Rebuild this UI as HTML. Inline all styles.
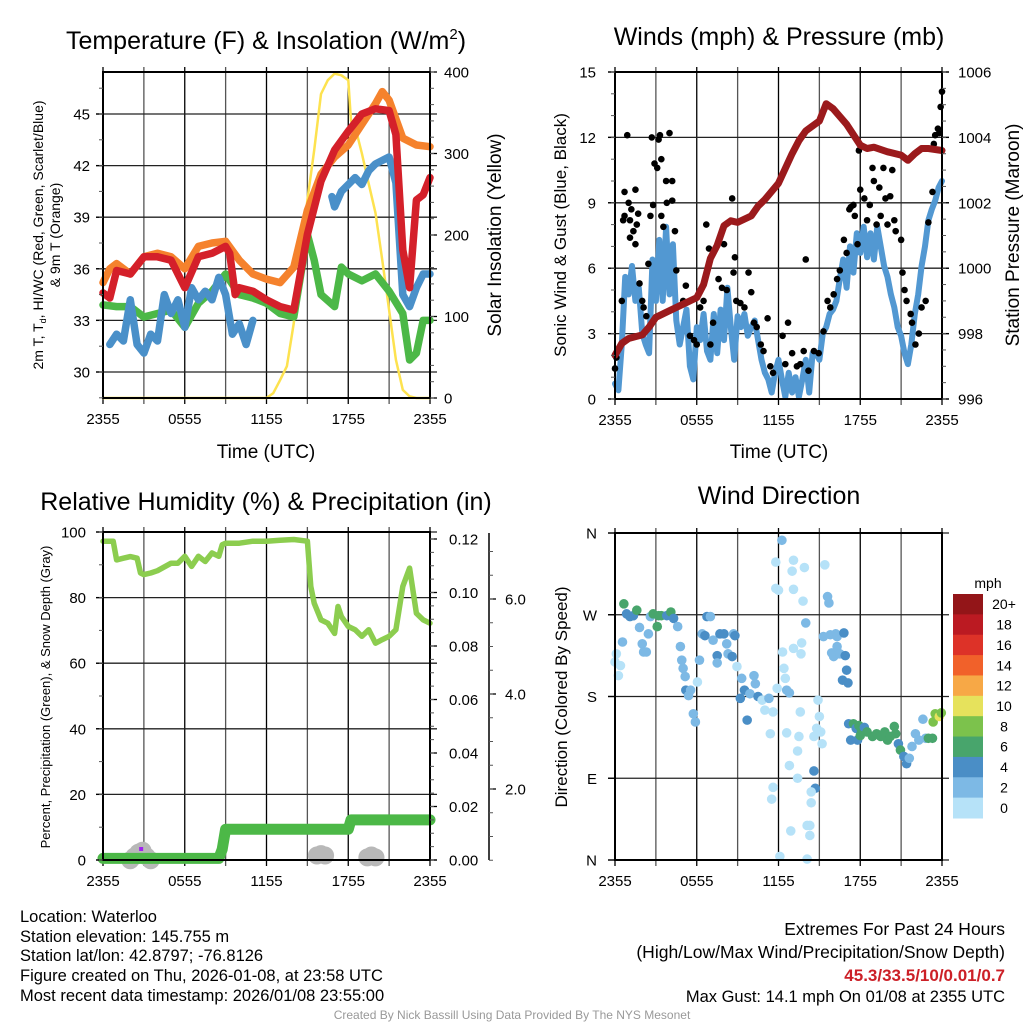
<!DOCTYPE html>
<html><head><meta charset="utf-8"><title>Waterloo Meteogram</title>
<style>
html,body{margin:0;padding:0;background:#fff;}
svg{display:block;font-family:"Liberation Sans",Arial,sans-serif;}
</style></head>
<body>
<svg id="root" width="1024" height="1024" viewBox="0 0 1024 1024">
<g id="grid-layer"></g>
<g id="data-layer"></g>
<g id="axis-layer"></g>
<text x="266" y="49" font-size="25" text-anchor="middle">Temperature (F) &amp; Insolation (W/m<tspan font-size="15" dy="-10">2</tspan><tspan dy="10">)</tspan></text>
<text x="779" y="45" font-size="25" text-anchor="middle">Winds (mph) &amp; Pressure (mb)</text>
<text x="266" y="510" font-size="25" text-anchor="middle">Relative Humidity (%) &amp; Precipitation (in)</text>
<text x="779" y="504" font-size="25" text-anchor="middle">Wind Direction</text>
<text x="266" y="458" font-size="19" text-anchor="middle">Time (UTC)</text>
<text x="779" y="458" font-size="19" text-anchor="middle">Time (UTC)</text>
<text transform="translate(43,235) rotate(-90)" font-size="14" text-anchor="middle">2m T, T<tspan font-size="9" dy="3">d</tspan><tspan dy="-3">, HI/WC (Red, Green, Scarlet/Blue)</tspan></text>
<text transform="translate(60,235) rotate(-90)" font-size="14" text-anchor="middle">&amp; 9m T (Orange)</text>
<text transform="translate(501,235) rotate(-90)" font-size="19" text-anchor="middle">Solar Insolation (Yellow)</text>
<text transform="translate(566,235) rotate(-90)" font-size="17" text-anchor="middle">Sonic Wind &amp; Gust (Blue, Black)</text>
<text transform="translate(1019,235) rotate(-90)" font-size="19" text-anchor="middle">Station Pressure (Maroon)</text>
<text transform="translate(50,697) rotate(-90)" font-size="13" text-anchor="middle">Percent, Precipitation (Green), &amp; Snow Depth (Gray)</text>
<text transform="translate(567,697) rotate(-90)" font-size="17" text-anchor="middle">Direction (Colored By Speed)</text>
<text x="988" y="588" font-size="14" text-anchor="middle">mph</text>
<g font-size="16.5">
<text x="20" y="922">Location: Waterloo</text>
<text x="20" y="942">Station elevation: 145.755 m</text>
<text x="20" y="961">Station lat/lon: 42.8797; -76.8126</text>
<text x="20" y="981">Figure created on Thu, 2026-01-08, at 23:58 UTC</text>
<text x="20" y="1001">Most recent data timestamp: 2026/01/08 23:55:00</text>
</g>
<g font-size="16.5" text-anchor="end">
<text x="1005" y="935" font-size="17.5">Extremes For Past 24 Hours</text>
<text x="1005" y="958" font-size="17.5">(High/Low/Max Wind/Precipitation/Snow Depth)</text>
<text x="1005" y="981" font-size="17" font-weight="bold" fill="#cc2027">45.3/33.5/10/0.01/0.7</text>
<text x="1005" y="1002">Max Gust: 14.1 mph On 01/08 at 2355 UTC</text>
</g>
<text x="512" y="1019" font-size="12" fill="#999" text-anchor="middle">Created By Nick Bassill Using Data Provided By The NYS Mesonet</text>
</svg>
<script>
// ---------- data ----------
const hourTicks = [0, 6, 12, 18, 24];
const hourTickLabels = ["2355", "0555", "1155", "1755", "2355"];
const tempTicks = [30, 33, 36, 39, 42, 45];
const solarTicks = [0, 100, 200, 300, 400];
const windTicks = [0, 3, 6, 9, 12, 15];
const presTicks = [996, 998, 1000, 1002, 1004, 1006];
const rhTicks = [0, 20, 40, 60, 80, 100];
const precipTicks = [0, 0.02, 0.04, 0.06, 0.08, 0.10, 0.12];
const precipTickLabels = ["0.00", "0.02", "0.04", "0.06", "0.08", "0.10", "0.12"];
const snowTicks = [2, 4, 6];
const snowTickLabels = ["2.0", "4.0", "6.0"];
const dirTicks = [0, 90, 180, 270, 360];
const dirTickLabels = ["N", "E", "S", "W", "N"];
const speedBins = ["20+", "18", "16", "14", "12", "10", "8", "6", "4", "2", "0"];
const speedColors = ["#931518", "#bb1a22", "#dd3228", "#f1612a", "#f7a846", "#e6e25c", "#7cc24c", "#48a56c", "#4a8ec6", "#7db9e5", "#b6e2f8"];

const orangeHours = [0,0.5,1,2,3,4,5,6,7,8,9,10,11,12,13,14,15,16,17,18,19,20,20.5,21,22,23,24];
const orangeTemp = [35.2,36.0,36.3,35.7,36.7,36.9,36.7,36.0,37.3,37.5,37.6,36.5,35.7,35.4,35.2,36.1,39.4,41.5,42.5,43.2,44.4,45.6,46.3,45.8,43.6,43.2,43.1];
const redHours = [0,0.5,1,2,3,4,5,6,7,8,9,9.3,9.7,10,11,12,13,14,15,16,17,18,19,20,21,21.5,22,22.5,23,23.5,24];
const redTemp = [34.6,34.3,35.9,35.7,36.7,36.7,36.5,34.9,36.7,36.9,37.3,36.9,34.5,34.9,34.7,34.2,33.8,33.6,38.0,41.1,42.9,44.0,45.0,45.3,45.2,43.8,37.1,34.9,40.0,40.3,41.3];
const greenHours = [0,1,2,3,4,5,6,7,8,9,10,11,12,13,14,15,15.5,16,17,17.5,18,19,20,21,22,22.5,23,23.5,24];
const greenTemp = [33.9,33.8,33.8,33.2,33.4,33.6,32.6,34.0,34.7,35.7,34.5,34.3,34.0,33.4,33.2,38.0,36.5,34.5,33.8,36.1,35.7,35.3,35.7,34.7,33.4,30.7,31.1,33.0,33.0];
const blueHours = [0.5,1,1.5,2,2.5,3,3.5,4,4.5,5,5.5,6,6.5,7,7.5,8,8.5,9,9.5,10,10.5,11,11.5,16.8,17,17.5,18,18.5,19,19.5,20,20.5,21,21.5,22,22.5,23,23.5,24];
const blueTemp = [31.6,32.2,31.8,34.2,31.6,31.1,32.2,31.8,34.5,33.4,34.2,32.6,34.9,34.2,34.7,34.2,35.5,34.5,32.2,32.8,31.6,33.0,null,40.2,39.6,40.5,40.9,41.3,40.9,41.7,42.1,42.3,42.5,41.0,34.5,33.8,34.9,35.7,35.7];
const solarHours = [0,12,12.5,13,13.5,14,14.5,15,15.5,16,16.5,17,17.5,18,18.2,18.5,19,19.5,20,20.5,21,21.5,22,22.5,23,24];
const solarVals = [0,0,6,22,39,92,169,243,304,373,390,398,396,390,340,333,300,263,227,169,108,47,10,2,0,0];

const windSpeed = [0.7,0.4,2.5,5.6,4.8,6.1,4.5,5.1,3.0,2.5,2.1,6.4,4.5,7.3,4.5,7.9,4.8,7.1,3.6,2.5,3.3,4.1,1.5,0.9,3.3,2.7,3.9,2.2,1.8,3.9,2.1,4.1,2.7,5.1,3.3,1.8,3.8,3.3,3.9,2.9,3.3,3.6,2.7,1.8,1.2,0.9,0.3,1.2,1.8,0.9,0.1,1.2,0.3,1.0,0.1,0.9,1.8,0.3,2.1,2.1,1.8,3.0,3.3,3.9,4.1,4.5,5.5,6.4,5.1,7.0,5.8,7.6,6.7,7.9,6.5,7.6,6.4,7.9,7.0,6.1,5.6,4.8,4.2,3.3,2.9,2.1,1.6,2.5,3.9,4.8,6.1,7.0,8.2,8.7,9.1,9.7,10.0];
const gustHours = [0,0.1,0.5,0.7,0.9,0.7,0.6,1.0,1.1,1.2,1.1,1.35,1.5,1.5,1.6,1.7,1.8,2.0,2.1,2.3,2.45,2.6,2.7,2.8,2.9,3.1,3.2,3.3,3.4,3.4,3.55,3.75,3.8,4.0,4.2,4.2,4.4,4.5,5.0,5.2,5.5,5.8,6.0,6.25,6.5,6.7,6.9,7.0,7.2,7.6,7.85,8.0,8.2,8.6,8.7,8.8,8.9,9.2,9.5,9.8,10.0,10.2,10.4,10.7,10.9,11.2,11.4,11.6,12.3,12.5,12.7,13.0,13.35,13.6,13.85,14.0,14.2,14.6,14.95,15.3,15.6,15.8,16.05,16.3,16.5,16.8,17.0,17.2,17.3,17.5,17.6,17.8,17.9,18.0,18.3,18.5,18.7,18.9,19.0,19.2,19.4,19.5,19.7,19.85,20.0,20.2,20.35,20.5,20.6,21.0,21.1,21.25,21.4,21.7,21.8,22.05,22.3,22.5,22.8,23.0,23.3,23.4,23.5,23.7,23.8,23.9,24.0];
const gustSpeed = [1.4,1.9,4.5,9.5,12.1,8.4,8.2,9.0,8.2,8.7,7.4,7.7,7.1,9.6,8.0,8.5,5.3,4.5,4.2,3.8,6.2,8.4,12.0,8.9,10.8,10.6,11.9,12.1,11.0,8.4,7.9,10.0,9.0,12.2,10.0,9.1,7.7,5.9,4.5,5.2,2.9,2.7,2.5,4.2,4.5,8.0,6.9,2.5,3.5,5.5,5.1,7.1,5.0,9.2,5.8,6.5,4.5,4.4,4.2,5.8,4.9,3.5,3.3,2.5,2.2,3.7,1.5,1.2,2.9,1.6,3.5,2.1,1.5,1.6,2.2,6.4,1.3,2.2,2.1,3.1,4.5,4.2,4.8,5.5,5.9,7.3,6.7,8.7,8.8,8.9,8.4,7.1,11.4,9.6,9.2,8.2,8.9,10.6,10.0,8.0,9.7,8.4,10.6,9.2,8.0,9.3,10.5,8.2,7.7,7.3,5.8,5.0,4.5,3.9,3.5,2.5,3.0,4.2,4.5,8.1,9.5,11.7,12.1,12.4,12.2,13.4,14.1];
const presHours = [0,0.5,1,2,2.5,3,4,5,6,6.5,7,7.5,8,8.5,9,10,10.5,11,12,13,13.5,14,15,15.5,16,17,18,18.5,19,20,21,21.5,22,22.5,23,24];
const presVals = [997.34,997.7,997.85,997.96,998.2,998.5,998.7,998.9,999.1,999.5,1000.3,1000.7,1001.3,1001.45,1001.4,1001.6,1001.9,1002.1,1002.6,1003.5,1003.9,1004.2,1004.5,1005.03,1004.88,1004.4,1003.76,1003.66,1003.7,1003.56,1003.46,1003.3,1003.5,1003.66,1003.66,1003.6];

const dirHours = [0,0.1,0.25,0.4,0.55,0.65,0.85,1.1,1.35,1.6,1.8,2.0,2.1,2.3,2.45,2.6,2.8,3.1,3.2,3.4,3.8,4.1,4.3,4.6,4.8,4.9,5.0,5.15,5.2,5.4,5.55,5.75,5.9,6.05,6.2,6.4,6.6,6.75,7.0,7.2,7.5,7.5,7.7,8.0,8.2,8.3,8.6,8.7,8.8,8.95,9.2,9.3,9.5,9.7,9.9,10.2,10.3,10.5,10.8,11.0,11.3,11.4,11.6,11.9,12.25,11.8,13.1,13.0,13.9,15.4,11.8,12.0,13.1,13.8,14.0,13.7,13.1,12.3,13.65,12.4,12.5,12.6,12.8,13.6,14.9,15.0,14.8,15.1,14.6,15.2,12.6,13.5,13.4,12.8,14.6,13.4,11.6,14.7,14.4,11.5,14.4,14.1,14.3,12.9,14.3,12.1,14.1,15.6,15.7,15.3,15.8,16.2,16.3,16.8,15.9,16.05,16.3,16.5,16.9,17.0,16.7,17.1,17.15,17.5,17.7,17.9,18.1,18.3,18.5,18.9,19.2,19.5,19.8,20.0,20.2,20.5,20.6,20.8,20.95,21.2,21.4,21.6,21.8,22.05,22.3,22.6,22.8,23.0,23.3,23.35,23.5,23.8,23.95,17.3,17.8,18.0];
const dirDeg = [218,227,203,214,240,282,271,268,269,275,256,238,229,229,249,268,271,257,269,269,269,273,266,257,235,220,211,202,187,181,187,161,152,196,220,249,247,268,268,242,225,217,249,249,238,227,224,249,247,213,178,200,187,154,183,203,194,180,176,165,178,139,163,189,352,328,330,318,322,325,299,297,298,285,261,239,233,229,227,211,200,187,184,163,176,158,145,141,136,128,140,136,120,104,98,90,80,79,75,67,63,38,38,32,27,4,1,290,283,246,248,249,246,250,228,224,235,227,225,209,198,195,150,150,145,148,143,146,141,136,139,136,141,132,136,147,139,128,121,114,106,112,125,139,132,155,134,134,134,152,161,158,162,132,132,137];
const dirSpeed = [1,1,1,1,2,6,5,4,4,6,2,2,2,2,2,3,6,6,7,6,5,6,4,3,2,2,2,2,4,2,2,2,2,1,3,2,4,4,2,2,4,2,4,4,2,2,4,2,4,1,4,3,4,4,3,3,3,4,1,1,2,1,1,1,3,1,1,1,1,1,1,1,1,1,3,1,1,1,1,1,1,3,3,1,1,1,1,1,1,1,1,1,1,1,4,1,1,4,1,1,1,1,1,1,1,1,1,3,3,2,2,2,2,4,2,2,2,2,4,4,4,4,4,6,5,6,6,5,6,7,7,7,7,7,7,6,6,4,6,4,4,2,2,2,2,2,2,6,6,8,8,10,8,5,4,6];

const rhHours = [0,0.75,1,1.5,2,2.5,2.75,3,3.5,4,5,5.5,6,6.5,7,7.5,8,8.5,8.75,9,10,11,12,13,14,15,15.25,15.5,16,16.5,17,17.25,17.5,18,18.5,19,19.5,20,20.5,21,21.5,22,22.5,23,23.5,24];
const rhVals = [97.2,97.2,91.5,92.0,92.5,92.0,87.5,87.0,87.5,88.2,90.5,90.5,92.6,89.5,92.6,91.0,93.6,92.6,96.1,96.6,96.6,97.2,97.2,97.5,97.7,97.2,83.4,78.3,73.2,72.2,69.1,77.3,74.2,71.2,70.2,68.2,70.2,66.1,67.2,68.2,70.2,83.4,89.0,75.2,73.2,72.2];
const precipHours = [0,8.5,8.75,9,18,18.2,24];
const precipVals = [0.0006,0.0006,0.004,0.0115,0.0115,0.015,0.015];
const snowHours = [2.0,2.3,2.6,2.9,3.2,3.5,15.7,16.0,16.3,19.4,19.7,20.0];
const snowVals = [0.5,0.58,0.66,0.7,0.58,0.5,0.6,0.63,0.6,0.56,0.6,0.56];

// ---------- scales ----------
const xL = h => 103 + h * 13.625;
const xR = h => 615 + h * 13.625;
const yTemp = v => 372 - (v - 30) * 17.2;
const ySolar = v => 398 - v * 0.815;
const yWind = v => 399 - v * 21.8;
const yPres = v => 399 - (v - 996) * 32.7;
const yRH = v => 860 - v * 3.28;
const yPrecip = v => 860 - v * 2675;
const ySnow = v => 884 - v * 47.5;
const yDir = v => 860 - v * 0.9083;

const NS = "http://www.w3.org/2000/svg";
const gridL = document.getElementById("grid-layer");
const dataL = document.getElementById("data-layer");
const axisL = document.getElementById("axis-layer");
function mk(tag, attrs, parent) {
  const e = document.createElementNS(NS, tag);
  for (const k in attrs) e.setAttribute(k, attrs[k]);
  parent.appendChild(e);
  return e;
}
function linePath(xs, ys, fx, fy) {
  let d = "", pen = false;
  for (let i = 0; i < xs.length; i++) {
    if (ys[i] === null) { pen = false; continue; }
    d += (pen ? "L" : "M") + fx(xs[i]).toFixed(1) + "," + fy(ys[i]).toFixed(1);
    pen = true;
  }
  return d;
}

// ---------- panels: grid + frame ----------
const panels = [
  {name: "temperature", x0: 103, x1: 430, y0: 72, y1: 398, fx: xL, hTicks: tempTicks.map(yTemp)},
  {name: "winds", x0: 615, x1: 942, y0: 72, y1: 399, fx: xR, hTicks: windTicks.map(yWind)},
  {name: "humidity", x0: 103, x1: 430, y0: 532, y1: 860, fx: xL, hTicks: rhTicks.map(yRH)},
  {name: "direction", x0: 615, x1: 942, y0: 533, y1: 860, fx: xR, hTicks: dirTicks.map(yDir)}
];
panels.forEach(p => {
  for (let h = 0; h <= 24; h += 3) {
    const gl = mk("line", {x1: p.fx(h), x2: p.fx(h), y1: p.y0 - 5, y2: p.y1 + 6, stroke: h % 6 === 0 ? "#000" : "#555", "stroke-width": 1.3}, gridL);
    
    
  }
  p.hTicks.forEach(y => {
    const hl = mk("line", {x1: p.x0 - 7, x2: p.x1 + 7, y1: y, y2: y, stroke: "#222", "stroke-width": 1.3}, gridL);
    
    
  });
  const fr = mk("rect", {x: p.x0, y: p.y0, width: p.x1 - p.x0, height: p.y1 - p.y0, fill: "none", stroke: "#000", "stroke-width": 2}, axisL);
  
  
  hourTicks.forEach((h, i) => {
    const t = mk("text", {x: p.fx(h), y: p.y1 + 26, "font-size": 15, "text-anchor": "middle"}, axisL);
    t.textContent = hourTickLabels[i];
    
    
  });
});

function ticks(vals, labels, fy, x, dir, lx, anchor, name, size) {
  vals.forEach((v, i) => {
    const y = fy(v);
    const tl = mk("line", {x1: x, x2: x + dir * 7, y1: y, y2: y, stroke: "#000", "stroke-width": 1.3}, axisL);
    
    
    const t = mk("text", {x: lx, y: y + 5.5, "font-size": size || 15, "text-anchor": anchor}, axisL);
    t.textContent = labels[i];
    
    
  });
}
function minor(from, to, step, fy, x, dir, name) {
  for (let v = from; v <= to + 1e-9; v += step) {
    const m = mk("line", {x1: x, x2: x + dir * 4, y1: fy(v), y2: fy(v), stroke: "#555", "stroke-width": 1}, axisL);
    
    
  }
}
ticks(tempTicks, tempTicks.map(String), yTemp, 103, -1, 90, "end", "temperature");
minor(28.5, 46.5, 1.5, yTemp, 103, -1, "temperature");
ticks(solarTicks, solarTicks.map(String), ySolar, 430, 1, 444, "start", "solar");
minor(0, 400, 20, ySolar, 430, 1, "solar");
ticks(windTicks, windTicks.map(String), yWind, 615, -1, 596, "end", "wind");
minor(0, 15, 1, yWind, 615, -1, "wind");
ticks(presTicks, presTicks.map(String), yPres, 942, 1, 958, "start", "pressure");
minor(996, 1006, 0.5, yPres, 942, 1, "pressure");
ticks(rhTicks, rhTicks.map(String), yRH, 103, -1, 86, "end", "humidity");
minor(0, 100, 10, yRH, 103, -1, "humidity");
ticks(precipTicks, precipTickLabels, yPrecip, 430, 1, 449, "start", "precipitation");
minor(0, 0.12, 0.005, yPrecip, 430, 1, "precipitation");
ticks(dirTicks, dirTickLabels, yDir, 615, -1, 597, "end", "direction");
const sa = mk("line", {x1: 489, x2: 489, y1: 533, y2: 860, stroke: "#000", "stroke-width": 1.5}, axisL);


ticks(snowTicks, snowTickLabels, ySnow, 489, 1, 505, "start", "snow-depth");
minor(0.5, 7, 0.5, ySnow, 489, 1, "snow-depth");

// ---------- series ----------
function series(xs, ys, fx, fy, color, w, name) {
  const p = mk("path", {d: linePath(xs, ys, fx, fy), fill: "none", stroke: color, "stroke-width": w, "stroke-linecap": "round", "stroke-linejoin": "round"}, dataL);
  
  
}
series(solarHours, solarVals, xL, ySolar, "#fde24f", 2.5, "solar-insolation-line");
series(greenHours, greenTemp, xL, yTemp, "#4cb847", 7.5, "dewpoint-line");
series(blueHours, blueTemp, xL, yTemp, "#4a90c9", 7.5, "wind-chill-line");
series(orangeHours, orangeTemp, xL, yTemp, "#f5822d", 7.5, "temperature-9m-line");
series(redHours, redTemp, xL, yTemp, "#d4202a", 7.5, "temperature-2m-line");

const windHours = windSpeed.map((v, i) => i * 24 / (windSpeed.length - 1));
series(windHours, windSpeed, xR, yWind, "#5298d2", 6, "sonic-wind-line");
gustHours.forEach((h, i) => {
  const c = mk("circle", {cx: xR(h), cy: yWind(gustSpeed[i]), r: 3.3, fill: "#000"}, dataL);
  
  
});
series(presHours, presVals, xR, yPres, "#9b1a1c", 7, "pressure-line");

snowHours.forEach((h, i) => {
  const c = mk("circle", {cx: xL(h), cy: Math.max(ySnow(snowVals[i]), 848), r: 9, fill: "#b8b8b8"}, dataL);
  
  
});
const pm = mk("rect", {x: xL(2.8) - 2, y: 847, width: 4, height: 4, fill: "#a020f0"}, dataL);


series(rhHours, rhVals, xL, yRH, "#8ccd4f", 5.5, "relative-humidity-line");
series(precipHours, precipVals, xL, yPrecip, "#4cb847", 11, "precipitation-line");

function speedColor(s) {
  const idx = Math.min(10, Math.floor(s / 2));
  return speedColors[10 - idx];
}
dirHours.forEach((h, i) => {
  const c = mk("circle", {cx: xR(h), cy: yDir(dirDeg[i]), r: 4.8, fill: speedColor(dirSpeed[i])}, dataL);
  
  
});

// ---------- colorbar ----------
const cbH = (818 - 594) / speedColors.length;
speedColors.forEach((col, i) => {
  const r = mk("rect", {x: 953, y: 594 + i * cbH, width: 30, height: cbH + 0.5, fill: col}, axisL);
  
  
  const t = mk("text", {x: 1004, y: 594 + i * cbH + cbH / 2 + 5, "font-size": 14, "text-anchor": "middle"}, axisL);
  t.textContent = speedBins[i];
  
  
});
</script>
</body></html>
